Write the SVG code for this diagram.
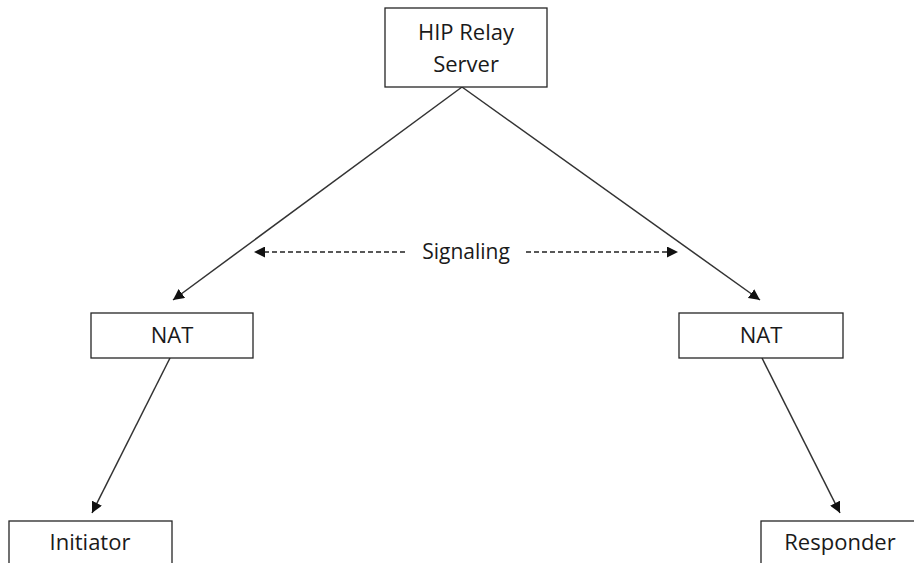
<svg xmlns="http://www.w3.org/2000/svg" width="914" height="563" viewBox="0 0 914 563">
<style>
.box{fill:#fff;stroke:#262626;stroke-width:1.3}
.t{font-family:"Open Sans","Liberation Sans",sans-serif;font-size:22px;fill:#1a1a1a;text-anchor:middle}
.s{font-size:21px}
.ln{stroke:#333;stroke-width:1.5;fill:none}
.dash{stroke:#222;stroke-width:1.4;fill:none;stroke-dasharray:5 3}
</style>
<defs>
<marker id="ah" viewBox="0 0 10 10" refX="10" refY="5" markerWidth="11" markerHeight="11" markerUnits="userSpaceOnUse" orient="auto">
<path d="M0,0 L10,5 L0,10 z" fill="#111"/>
</marker>
</defs>
<g id="connectors">
<line class="ln" x1="462" y1="87" x2="173" y2="300" marker-end="url(#ah)"/>
<line class="ln" x1="462" y1="87" x2="760" y2="300" marker-end="url(#ah)"/>
<line class="ln" x1="170" y1="358" x2="92" y2="513" marker-end="url(#ah)"/>
<line class="ln" x1="762" y1="358" x2="840" y2="513" marker-end="url(#ah)"/>
<line class="dash" x1="405" y1="252" x2="254" y2="252" marker-end="url(#ah)"/>
<line class="dash" x1="526" y1="252" x2="678" y2="252" marker-end="url(#ah)"/>
<text class="t s" x="466" y="259">Signaling</text>
</g>
<g id="hip">
<rect class="box" x="385" y="8" width="162" height="79"/>
<text class="t" x="466" y="40">HIP Relay</text>
<text class="t" x="466" y="72">Server</text>
</g>
<g id="nat-left">
<rect class="box" x="91" y="313" width="162" height="45"/>
<text class="t" x="172" y="343">NAT</text>
</g>
<g id="nat-right">
<rect class="box" x="679" y="313" width="164" height="45"/>
<text class="t" x="761" y="343">NAT</text>
</g>
<g id="initiator">
<rect class="box" x="9" y="521" width="163" height="60"/>
<text class="t" x="90" y="550">Initiator</text>
</g>
<g id="responder">
<rect class="box" x="761" y="521" width="170" height="60"/>
<text class="t" x="840" y="550">Responder</text>
</g>
</svg>
